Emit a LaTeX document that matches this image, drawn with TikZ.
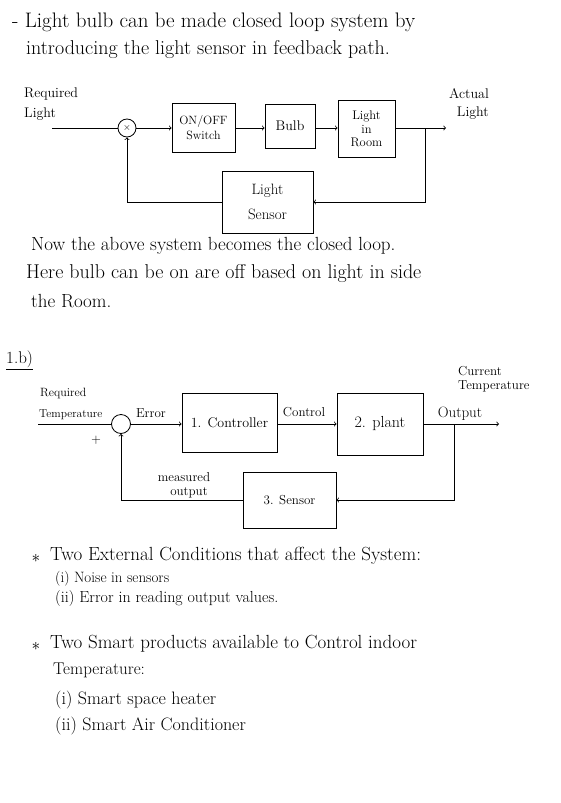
\documentclass[tikz,border=0pt]{standalone}
\usepackage{tikz}
\usetikzlibrary{positioning}

\newcommand{\fsz}[1]{\fontsize{#1}{#1}\selectfont}

\tikzset{
  blockbox/.style={draw, thick, align=center, inner sep=2pt},
  sumnode/.style={draw, thick, circle, inner sep=0pt},
  flow/.style={thick, ->},
  wire/.style={thick},
  notetext/.style={anchor=west, inner sep=0pt},
  tag/.style={inner sep=0pt, align=left}
}

\begin{document}
\begin{tikzpicture}[x=1pt, y=-1pt]
    % page frame
    \useasboundingbox (0,0) rectangle (560,803);

    % Opening remark
    \node[notetext, font=\fsz{21}] (intro1) at (12,22) {- Light bulb can be made closed loop system by};
    \node[notetext, font=\fsz{20}] (intro2) at (26,50) {introducing the light sensor in feedback path.};

    % Light loop: blocks
    \node[sumnode, minimum size=18pt] (sumA) at (127,128) {$\times$};
    \node[blockbox, font=\fsz{12}, minimum width=63pt, minimum height=49pt] (switch) at (203.5,128) {ON/OFF\\[3pt]Switch};
    \node[blockbox, font=\fsz{14}, minimum width=50pt, minimum height=44pt] (bulb) at (290,126) {Bulb};
    \node[blockbox, font=\fsz{12.5}, minimum width=57pt, minimum height=57pt] (room) at (366.5,129) {Light\\[1pt]in\\[1pt]Room};
    \node[blockbox, font=\fsz{15}, minimum width=91pt, minimum height=62pt] (lsensor) at (267.5,202) {Light\\[10pt]Sensor};

    % Light loop: labels
    \node[tag, anchor=west, font=\fsz{14}] (reqA) at (24,104) {Required\\[6pt]Light};
    \node[tag, align=right, anchor=east, font=\fsz{14}] (actA) at (489,104) {Actual\\[4pt]Light};

    % Light loop: connectors
    \coordinate (inA) at (52,128);
    \coordinate (outA) at (446,128);
    \coordinate (tapA) at (425,128);
    \draw[wire] (inA) -- (sumA.west);
    \draw[flow] (sumA.east) -- (switch.west);
    \draw[flow] (switch.east) -- (bulb.west |- switch.east);
    \draw[flow] (bulb.east |- switch.east) -- (room.west |- switch.east);
    \draw[flow] (room.east |- switch.east) -- (outA);
    \draw[flow] (tapA) |- (lsensor.east);
    \draw[flow] (lsensor.west) -| (sumA.south);

    % Remark after the first loop
    \node[notetext, font=\fsz{19}] (now1) at (31,246) {Now the above system becomes the closed loop.};
    \node[notetext, font=\fsz{20}] (now2) at (26,274) {Here bulb can be on are off based on light in side};
    \node[notetext, font=\fsz{19}] (now3) at (31,301) {the Room.};

    % Part 1.b
    \node[notetext, font=\fsz{17}] (partb) at (6,360) {\underline{1.b)}};

    % Temperature loop: blocks
    \node[sumnode, minimum size=19pt] (sumB) at (121,424) {};
    \node[blockbox, font=\fsz{14}, minimum width=95pt, minimum height=59pt] (ctrl) at (229.5,423) {1. Controller};
    \node[blockbox, font=\fsz{16}, minimum width=86pt, minimum height=62pt] (plant) at (380,424) {2. plant};
    \node[blockbox, font=\fsz{13}, minimum width=93pt, minimum height=56pt] (tsensor) at (289.5,500) {3. Sensor};

    % Temperature loop: labels
    \node[tag, anchor=west, font=\fsz{12}] (reqB) at (40,393) {Required};
    \node[tag, anchor=south west, font=\fsz{11.5}] (tempB) at (39,420) {Temperature};
    \node[tag, font=\fsz{13}] (errB) at (151,413) {Error};
    \node[tag, font=\fsz{13}] (ctlB) at (304,412) {Control};
    \node[tag, font=\fsz{15}] (outB) at (460,414) {Output};
    \node[tag, anchor=west, font=\fsz{13}] (curB) at (458,379) {Current\\[1pt]Temperature};
    \node[tag, font=\fsz{13}] (measB) at (184,477) {measured};
    \node[tag, font=\fsz{13}] (measB2) at (189,493) {output};
    \node[tag, font=\fsz{13}] (plusB) at (96,440) {+};

    % Temperature loop: connectors
    \coordinate (inB) at (38,424);
    \coordinate (outB2) at (499,424);
    \coordinate (tapB) at (454,424);
    \draw[wire] (inB) -- (sumB.west);
    \draw[flow] (sumB.east) -- (ctrl.west |- sumB.east);
    \draw[flow] (ctrl.east |- sumB.east) -- (plant.west |- sumB.east);
    \draw[flow] (plant.east |- sumB.east) -- (outB2);
    \draw[flow] (tapB) |- (tsensor.east);
    \draw[flow] (tsensor.west) -| (sumB.south);

    % External conditions
    \node[tag, font=\fsz{19}] (bullet1) at (36,558) {$\ast$};
    \node[notetext, font=\fsz{19}] (star1) at (50,556) {Two External Conditions that affect the System:};
    \node[notetext, font=\fsz{15}] (cond1) at (55,579) {(i) Noise in sensors};
    \node[notetext, font=\fsz{16}] (cond2) at (55,598) {(ii) Error in reading output values.};

    % Smart products
    \node[tag, font=\fsz{19}] (bullet2) at (36,646) {$\ast$};
    \node[notetext, font=\fsz{19}] (star2) at (50,644) {Two Smart products available to Control indoor};
    \node[notetext, font=\fsz{17}] (star2b) at (53,670) {Temperature:};
    \node[notetext, font=\fsz{18}] (prod1) at (55,700) {(i) Smart space heater};
    \node[notetext, font=\fsz{18}] (prod2) at (55,726) {(ii) Smart Air Conditioner};
\end{tikzpicture}
\end{document}
